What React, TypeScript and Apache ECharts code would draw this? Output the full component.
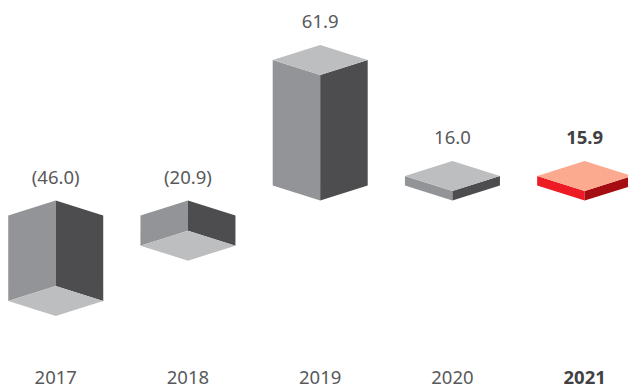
import React, { useEffect, useRef } from "react";
import * as echarts from "echarts";

const years = ["2017", "2018", "2019", "2020", "2021"];
const values = [-46.0, -20.9, 61.9, 16.0, 15.9];
const highlightedYear = "2021";

const greyFaces = { top: "#bcbec0", left: "#929497", right: "#4d4d4f" };
const redFaces = { top: "#fbaa8f", left: "#ed1c24", right: "#a50d12" };
const textColor = "#58595b";
const strongTextColor = "#414042";
const fontFamily = '"Noto Sans", sans-serif';
const fontSize = 18.5;

// Isometric half extents of a box footprint, in pixels.
const HALF_WIDTH = 47.5;
const HALF_DEPTH = 15;

const formatValue = (v: number) =>
  v < 0 ? `(${Math.abs(v).toFixed(1)})` : v.toFixed(1);

const renderBox = (params: any, api: any) => {
  const index = api.value(0);
  const value = api.value(1);
  const [cx, yValue] = api.coord([index, value]);
  const [, yZero] = api.coord([index, 0]);
  const strong = years[index] === highlightedYear;
  const faces = strong ? redFaces : greyFaces;
  const l = cx - HALF_WIDTH;
  const r = cx + HALF_WIDTH;
  const d = HALF_DEPTH;
  const poly = (points: number[][], fill: string) => ({
    type: "polygon",
    shape: { points },
    style: { fill },
  });

  let children: any[];
  let apex: number;
  if (value >= 0) {
    // Solid box standing on the zero line, its lid seen from above.
    apex = yValue - 2 * d;
    children = [
      poly([[l, yValue - d], [cx, yValue], [cx, yZero], [l, yZero - d]], faces.left),
      poly([[cx, yValue], [r, yValue - d], [r, yZero - d], [cx, yZero]], faces.right),
      poly([[cx, yValue - 2 * d], [r, yValue - d], [cx, yValue], [l, yValue - d]], faces.top),
    ];
  } else {
    // Hollow box sunk below the zero line: two inner walls and a floor.
    apex = yZero;
    children = [
      poly([[l, yZero + d], [cx, yZero], [cx, yValue], [l, yValue + d]], faces.left),
      poly([[cx, yZero], [r, yZero + d], [r, yValue + d], [cx, yValue]], faces.right),
      poly([[cx, yValue], [r, yValue + d], [cx, yValue + 2 * d], [l, yValue + d]], faces.top),
    ];
  }
  children.push({
    type: "text",
    style: {
      x: cx,
      y: apex - 24.5,
      text: formatValue(value),
      align: "center",
      verticalAlign: "middle",
      font: `${strong ? "700" : "400"} ${fontSize}px ${fontFamily}`,
      fill: strong ? strongTextColor : textColor,
    },
  });
  return { type: "group", children };
};

export default function App() {
  const ref = useRef<HTMLDivElement>(null);
  useEffect(() => {
    const chart = echarts.init(ref.current!, undefined, { renderer: "svg" });
    chart.setOption({
      animation: false,
      backgroundColor: "#ffffff",
      grid: {
        left: -10.4,
        right: -22.8,
        top: 75,
        height: 211,
        outerBoundsMode: "none",
      },
      xAxis: {
        type: "category",
        data: years,
        offset: 83,
        axisLine: { show: false },
        axisTick: { show: false },
        axisLabel: {
          interval: 0,
          margin: 0,
          formatter: (y: string) => (y === highlightedYear ? `{b|${y}}` : `{n|${y}}`),
          rich: {
            n: { fontFamily, fontSize, lineHeight: 15, color: textColor },
            b: { fontFamily, fontSize, lineHeight: 15, fontWeight: 700, color: strongTextColor },
          },
        },
      },
      yAxis: {
        type: "value",
        show: false,
        min: -46,
        max: 61.9,
        splitLine: { show: false },
        // The drawn height is not proportional: these spans are compressed.
        breaks: [
          { start: -46, end: -20.9, gap: 21.9 },
          { start: -20.9, end: 0, gap: 11.9 },
          { start: 0, end: 16, gap: 3.8 },
        ],
      },
      series: [
        {
          type: "custom",
          coordinateSystem: "cartesian2d",
          clip: false,
          silent: true,
          renderItem: renderBox,
          encode: { x: 0, y: 1 },
          data: values.map((v, i) => [i, v]),
        },
      ],
    });
    return () => chart.dispose();
  }, []);
  return (
    <div
      ref={ref}
      style={{ position: "absolute", left: 0, top: 0, width: 628, height: 386 }}
    />
  );
}
